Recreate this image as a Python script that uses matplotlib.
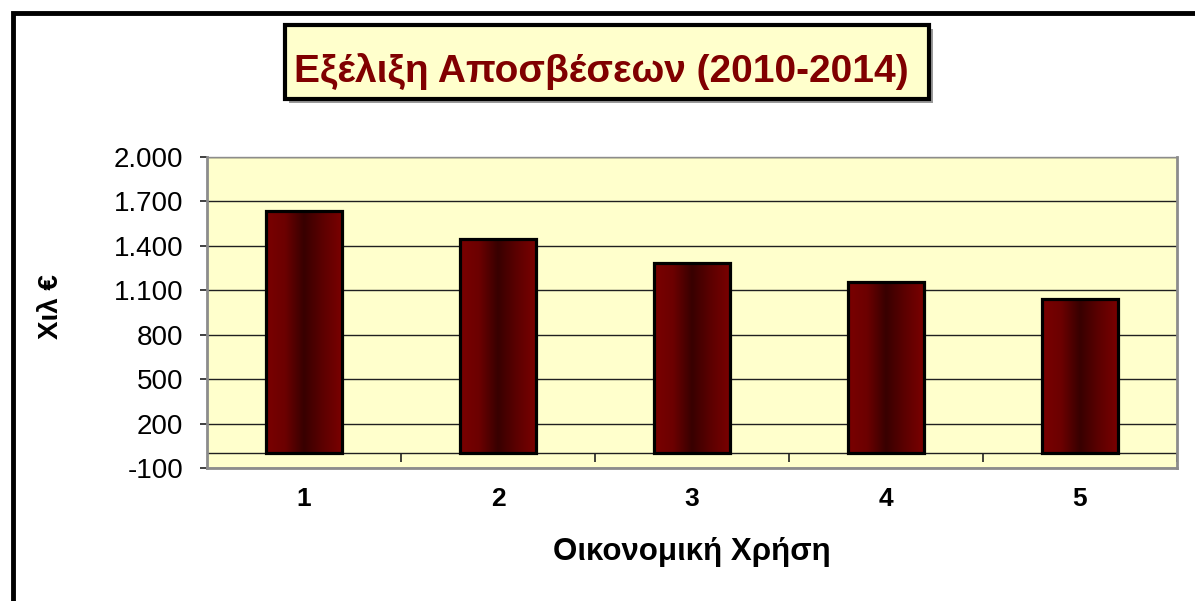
import numpy as np
import matplotlib
matplotlib.use('Agg')
import matplotlib.pyplot as plt
from matplotlib.patches import Rectangle
from matplotlib.colors import LinearSegmentedColormap

plt.rcParams['font.family'] = ['Liberation Sans', 'DejaVu Sans']

years = [1, 2, 3, 4, 5]
values = [1632, 1446, 1282, 1154, 1040]
yticks = [-100, 200, 500, 800, 1100, 1400, 1700, 2000]
ytick_labels = ['-100', '200', '500', '800', '1.100', '1.400', '1.700', '2.000']

W, H = 1195, 601
fig = plt.figure(figsize=(W / 100, H / 100), dpi=100)

def fx(px):
    return px / W

def fy(py):
    return 1 - py / H

# outer chart frame (only top and left visible)
fig.patches.append(Rectangle((fx(13), fy(700)), fx(1400), fy(13) - fy(700), transform=fig.transFigure,
                             fill=False, edgecolor='black', lw=3.5, zorder=0))

# title box with shadow
bx0, by0, bx1, by1 = 285, 25, 929, 99
fig.patches.append(Rectangle((fx(bx0 + 4), fy(by1 + 4)), fx(bx1 - bx0), fy(by0) - fy(by1), transform=fig.transFigure,
                             facecolor='#9a9a9a', edgecolor='none', zorder=1))
fig.patches.append(Rectangle((fx(bx0), fy(by1)), fx(bx1 - bx0), fy(by0) - fy(by1), transform=fig.transFigure,
                             facecolor='#FFFFCC', edgecolor='black', lw=3, zorder=2))
fig.text(fx(601), fy(82), 'Εξέλιξη Αποσβέσεων (2010-2014)',
         ha='center', va='baseline', fontsize=28, fontweight='bold', color='#800000', zorder=3)

# plot area
L, T, R, B = 207, 157, 1177, 468
ax = fig.add_axes([fx(L), fy(B), fx(R - L), fy(T) - fy(B)])
ax.set_facecolor('#FFFFCC')
ax.set_xlim(0.5, 5.5)
ax.set_ylim(-100, 2000)

for y in yticks:
    ax.axhline(y, color='#202020', lw=1, zorder=1)
ax.axhline(0, color='#202020', lw=1, zorder=1)
ax.vlines([1.5, 2.5, 3.5, 4.5, 5.5], -60, 0, color='#202020', lw=1.2, zorder=1, clip_on=False)

cmap = LinearSegmentedColormap.from_list('bar', ['#7a0000', '#6c0000', '#380000', '#5c0000', '#7a0000'])
grad = np.linspace(0, 1, 256).reshape(1, -1)
bars = ax.bar(years, values, width=0.39, facecolor='none', edgecolor='black', lw=2.3, zorder=3)
for b in bars:
    x0, w, h = b.get_x(), b.get_width(), b.get_height()
    im = ax.imshow(grad, cmap=cmap, aspect='auto', extent=(x0, x0 + w, 0, h), zorder=2)
    im.set_clip_path(b)

ax.set_yticks(yticks)
ax.set_yticklabels(ytick_labels, fontsize=20)
ax.set_xticks(years)
ax.set_xticklabels([str(v) for v in years], fontsize=19, fontweight='bold')
ax.tick_params(axis='x', length=0, pad=14)
ax.tick_params(axis='y', direction='out', length=5, width=1.2, color='#202020', pad=12)
for s in ax.spines.values():
    s.set_color('#8c8c8c')
    s.set_linewidth(2)
ax.spines['top'].set_linewidth(1)

ax.set_xlabel('Οικονομική Χρήση', fontsize=22.5, fontweight='bold')
ax.xaxis.set_label_coords(0.5, -0.222)
ax.set_ylabel('Χιλ €', fontsize=20, fontweight='bold')
ax.yaxis.set_label_coords(-0.147, 0.52)

fig.savefig('out.png', dpi=100)
